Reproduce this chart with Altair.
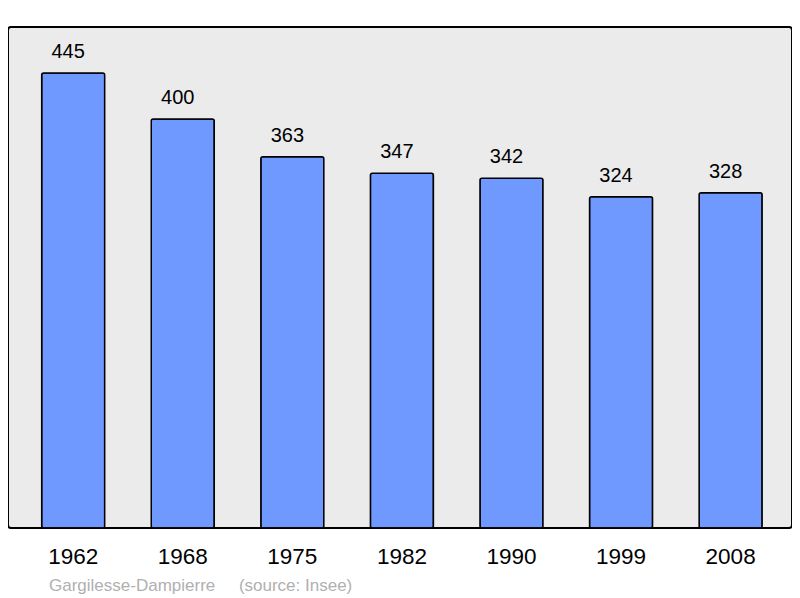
import altair as alt
import pandas as pd

years = ["1962", "1968", "1975", "1982", "1990", "1999", "2008"]
population = [445, 400, 363, 347, 342, 324, 328]
source_text = "Gargilesse-Dampierre\u00a0\u00a0\u00a0\u00a0\u00a0(source: Insee)"

df = pd.DataFrame({"year": years, "pop": population})

FONT = "Liberation Sans"

base = alt.Chart(df).encode(
    x=alt.X(
        "year:N",
        sort=None,
        scale=alt.Scale(paddingInner=0.425, paddingOuter=0.29, align=0.53),
        axis=alt.Axis(
            title=None, labelAngle=0, domain=False, ticks=False, tickSize=0,
            labelFontSize=22.5, labelFont=FONT, labelColor="black",
            labelPadding=35, labelBaseline="alphabetic", grid=False,
        ),
    )
)

bars = base.mark_bar(
    fill="#7099ff", stroke="black", strokeWidth=1.5, cornerRadius=2
).encode(
    y=alt.Y("pop:Q", scale=alt.Scale(domain=[0, 490], nice=False, zero=True), axis=None)
)

labels = base.mark_text(
    baseline="alphabetic", dy=-15, dx=-5, fontSize=20, font=FONT, color="black"
).encode(
    y=alt.Y("pop:Q"),
    text=alt.Text("pop:Q"),
)

chart = (
    alt.layer(bars, labels)
    .properties(
        width=784,
        height=501,
        autosize=alt.AutoSizeParams(type="none"),
        padding={"left": 0, "top": 19, "right": 0, "bottom": 70},
        title=alt.TitleParams(
            text=source_text, orient="bottom", anchor="start", dx=41, offset=10,
            fontSize=17, fontWeight="normal", color="#b0b0b0", font=FONT,
        ),
    )
    .configure_view(stroke="black", strokeWidth=2, fill="#ebebeb", cornerRadius=3)
)

chart.save("out.html", embed_options={"renderer": "svg", "actions": False})
